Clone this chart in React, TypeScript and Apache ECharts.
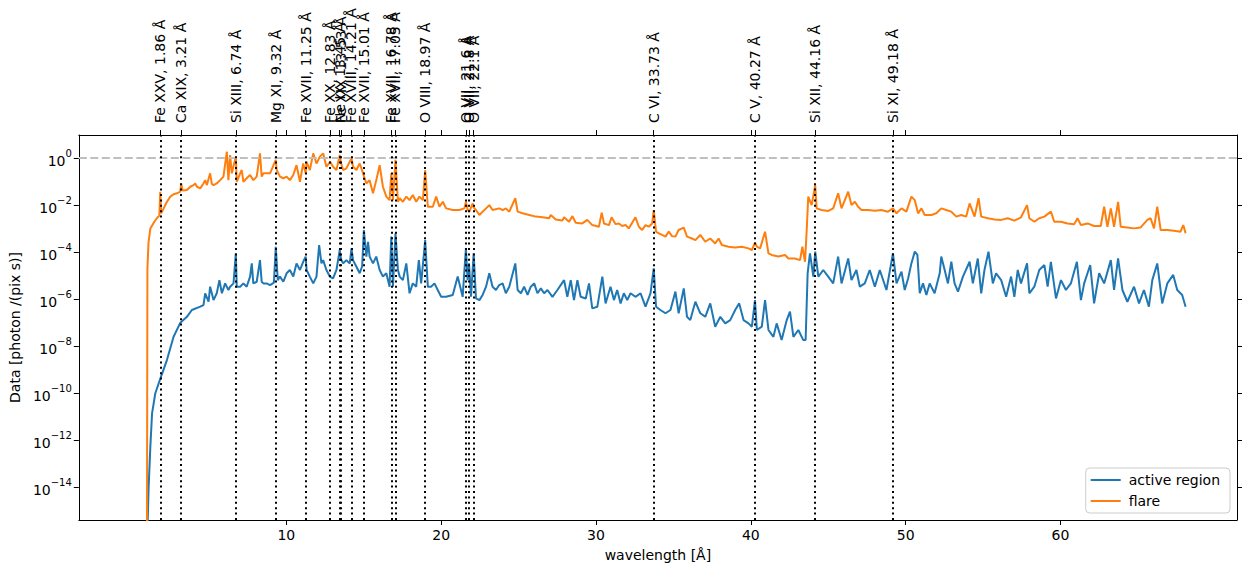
import React, { useEffect, useRef } from "react";
import * as echarts from "echarts";

// Spectra as [wavelength (Å), log10 of data in photon /(pix s)]
const activeRegion: [number, number][] = [
  [1.0, -17], [1.05, -15.4], [1.11, -13.97], [1.22, -12.27], [1.33, -10.86], [1.54, -10.0], [1.87, -9.37],
  [2.29, -8.59], [2.72, -7.6], [3.16, -7.0], [3.58, -6.75], [3.9, -6.46], [4.44, -6.32], [4.65, -6.25],
  [4.76, -5.75], [4.98, -6.11], [5.08, -5.47], [5.3, -6.04], [5.51, -5.75], [5.68, -5.19], [5.84, -5.75],
  [6.05, -5.33], [6.26, -5.61], [6.37, -5.47], [6.59, -5.33], [6.74, -4.05], [6.8, -5.47], [7.02, -5.47],
  [7.23, -5.33], [7.44, -5.47], [7.66, -5.04], [7.77, -4.48], [7.87, -5.33], [8.09, -5.26], [8.3, -4.34],
  [8.41, -5.26], [8.52, -5.33], [8.73, -5.33], [8.95, -5.4], [9.2, -5.3], [9.32, -3.77], [9.45, -5.19],
  [9.59, -5.04], [9.81, -5.26], [10.02, -4.9], [10.23, -4.76], [10.45, -5.04], [10.66, -4.48], [10.88, -4.76],
  [11.09, -4.41], [11.25, -4.19], [11.31, -4.76], [11.52, -5.04], [11.74, -5.33], [11.95, -5.04], [12.12, -3.7],
  [12.27, -4.48], [12.38, -4.34], [12.59, -4.76], [12.81, -5.04], [13.02, -5.12], [13.24, -4.76], [13.45, -3.91],
  [13.53, -4.3], [13.67, -4.48], [13.88, -4.34], [14.1, -4.48], [14.21, -3.84], [14.31, -4.34], [14.53, -4.62],
  [14.74, -4.9], [14.9, -4.6], [15.01, -3.06], [15.17, -4.19], [15.28, -3.56], [15.38, -4.19], [15.6, -4.48],
  [15.81, -4.19], [16.03, -4.76], [16.24, -5.04], [16.46, -4.9], [16.67, -5.47], [16.78, -3.34], [16.89, -5.47],
  [17.05, -3.2], [17.21, -4.76], [17.32, -5.04], [17.53, -5.19], [17.75, -4.48], [17.96, -5.75], [18.17, -5.33],
  [18.39, -5.47], [18.56, -4.34], [18.71, -5.33], [18.97, -3.49], [19.14, -5.47], [19.35, -5.47], [19.57, -5.33],
  [19.78, -5.61], [20.0, -5.9], [20.32, -5.9], [20.75, -5.82], [21.07, -5.04], [21.39, -5.9], [21.6, -3.84],
  [21.71, -5.19], [21.8, -4.48], [21.93, -5.9], [22.1, -4.05], [22.25, -5.97], [22.47, -6.04], [22.68, -5.82],
  [22.9, -5.47], [23.11, -4.9], [23.32, -5.47], [23.54, -5.61], [23.75, -5.4], [23.97, -5.33], [24.18, -5.75],
  [24.4, -5.47], [24.79, -4.48], [24.94, -5.61], [25.15, -5.75], [25.36, -5.47], [25.58, -5.82], [25.79, -5.47],
  [26.01, -5.33], [26.22, -5.75], [26.44, -5.54], [26.65, -5.75], [26.87, -5.61], [27.19, -5.9], [27.51, -5.61],
  [27.94, -5.19], [28.15, -5.9], [28.37, -5.19], [28.58, -6.04], [28.8, -5.19], [29.01, -5.9], [29.34, -5.97],
  [29.55, -5.33], [29.76, -6.39], [30.09, -6.32], [30.41, -5.04], [30.62, -6.18], [30.94, -5.47], [31.16, -6.04],
  [31.37, -5.61], [31.59, -6.18], [31.8, -5.75], [32.02, -6.04], [32.23, -5.75], [32.55, -5.9], [32.88, -5.75],
  [33.2, -6.32], [33.52, -5.75], [33.73, -4.69], [33.88, -6.32], [34.16, -6.46], [34.49, -6.6], [34.81, -6.46],
  [35.13, -5.68], [35.34, -6.6], [35.67, -5.54], [35.88, -6.75], [36.09, -6.89], [36.42, -6.11], [36.74, -6.6],
  [37.06, -6.75], [37.38, -6.18], [37.7, -7.17], [38.03, -6.75], [38.35, -7.03], [38.67, -6.89], [38.99, -6.46],
  [39.25, -6.18], [39.53, -6.89], [39.85, -7.03], [40.07, -7.17], [40.27, -6.04], [40.39, -7.31], [40.71, -7.17],
  [40.92, -6.04], [41.14, -7.31], [41.46, -7.6], [41.67, -7.03], [41.99, -7.74], [42.32, -6.89], [42.53, -6.53],
  [42.75, -7.6], [43.07, -7.31], [43.39, -7.74], [43.54, -7.74], [43.67, -4.9], [43.82, -4.05], [44.04, -5.04],
  [44.16, -3.98], [44.36, -5.04], [44.68, -4.76], [45.0, -5.04], [45.32, -5.33], [45.64, -4.19], [45.86, -5.33],
  [46.29, -4.27], [46.5, -5.19], [46.82, -4.76], [47.04, -5.47], [47.36, -5.33], [47.68, -4.76], [48.01, -5.47],
  [48.33, -4.76], [48.76, -5.61], [49.18, -4.05], [49.41, -5.33], [49.73, -4.83], [49.94, -5.61], [50.16, -5.12],
  [50.37, -4.48], [50.59, -3.98], [50.76, -4.12], [50.91, -5.75], [51.12, -5.33], [51.34, -5.82], [51.55, -5.33],
  [51.87, -5.75], [52.2, -4.9], [52.3, -4.19], [52.52, -4.76], [52.73, -5.33], [52.95, -4.41], [53.16, -5.33],
  [53.38, -5.68], [53.7, -5.04], [54.13, -4.41], [54.34, -5.33], [54.66, -4.27], [54.88, -5.75], [55.09, -4.76],
  [55.35, -3.98], [55.63, -5.33], [55.84, -4.9], [56.17, -5.19], [56.49, -5.9], [56.81, -5.04], [57.02, -5.9],
  [57.24, -4.76], [57.45, -5.33], [57.84, -4.48], [57.99, -5.75], [58.31, -5.47], [58.63, -4.76], [58.96, -4.55],
  [59.17, -5.47], [59.38, -4.41], [59.71, -5.97], [60.03, -5.19], [60.35, -5.61], [60.67, -5.33], [61.06, -4.41],
  [61.32, -6.04], [61.53, -5.33], [61.92, -4.55], [62.17, -6.18], [62.5, -4.9], [62.82, -5.33], [63.25, -4.34],
  [63.46, -5.61], [63.72, -4.27], [64.0, -5.61], [64.32, -6.11], [64.75, -5.47], [65.07, -6.18], [65.39, -5.61],
  [65.71, -6.32], [65.93, -5.19], [66.25, -4.48], [66.57, -6.18], [66.9, -5.33], [67.28, -4.97], [67.54, -5.61],
  [67.86, -5.82], [68.08, -6.32],
];

const flare: [number, number][] = [
  [1.0, -17], [1.03, -4.7], [1.1, -3.6], [1.22, -3.0], [1.44, -2.75], [1.65, -2.55], [1.8, -2.45], [1.86, -1.43],
  [1.92, -2.35], [2.08, -2.14], [2.29, -1.86], [2.51, -1.64], [2.72, -1.54], [2.94, -1.5], [3.15, -1.43],
  [3.21, -1.08], [3.3, -1.38], [3.58, -1.36], [3.8, -1.22], [4.01, -1.15], [4.12, -1.08], [4.23, -1.22],
  [4.44, -1.29], [4.65, -1.08], [4.76, -0.94], [4.87, -1.15], [5.08, -0.65], [5.19, -1.1], [5.3, -1.15],
  [5.51, -1.08], [5.73, -0.94], [5.94, -0.79], [6.16, 0.27], [6.26, -0.94], [6.37, 0.13], [6.48, -0.65],
  [6.74, 0.06], [6.8, -1.01], [7.02, -0.65], [7.12, -0.51], [7.23, -1.01], [7.44, -0.86], [7.66, -0.72],
  [7.87, -0.94], [8.09, -0.79], [8.3, 0.2], [8.41, -0.79], [8.52, -0.65], [8.73, -0.65], [8.95, -0.65],
  [9.32, -0.08], [9.38, -0.51], [9.59, -0.79], [9.81, -0.86], [10.02, -0.79], [10.23, -0.94], [10.45, -0.72],
  [10.66, -0.3], [10.88, -1.01], [11.09, -0.23], [11.25, -0.65], [11.31, -0.16], [11.52, -0.51], [11.74, 0.2],
  [11.95, -0.23], [12.17, 0.06], [12.38, 0.2], [12.59, -0.37], [12.83, -0.16], [13.02, -0.37], [13.24, -0.51],
  [13.45, 0.13], [13.53, -0.2], [13.67, -0.51], [13.88, -0.44], [14.21, -0.01], [14.31, -0.37], [14.53, -0.51],
  [14.74, -0.23], [14.96, -0.65], [15.17, -1.08], [15.38, -0.94], [15.6, -1.5], [15.81, -0.94], [16.03, -0.3],
  [16.24, -1.22], [16.46, -1.64], [16.67, -1.79], [16.78, -0.65], [16.89, -1.79], [17.05, -0.08], [17.21, -1.86],
  [17.32, -1.71], [17.53, -1.86], [17.75, -1.64], [17.96, -1.79], [18.17, -1.57], [18.39, -1.86], [18.6, -1.64],
  [18.82, -1.79], [18.97, -0.51], [19.14, -2.07], [19.46, -2.07], [19.68, -1.64], [19.89, -2.07], [20.11, -1.86],
  [20.32, -2.14], [20.75, -2.21], [21.18, -2.21], [21.5, -2.14], [21.6, -1.86], [21.71, -2.2], [21.82, -2.28],
  [22.04, -1.93], [22.1, -2.1], [22.25, -2.21], [22.47, -2.42], [22.68, -2.28], [22.9, -2.14], [23.11, -2.0],
  [23.32, -2.21], [23.75, -2.14], [23.97, -2.21], [24.18, -2.14], [24.4, -2.28], [24.79, -1.71], [24.94, -2.28],
  [25.26, -2.35], [25.69, -2.42], [26.12, -2.49], [26.55, -2.52], [26.97, -2.56], [27.08, -2.42], [27.4, -2.61],
  [27.83, -2.66], [27.94, -2.52], [28.26, -2.71], [28.48, -2.47], [28.69, -2.75], [29.12, -2.78], [29.44, -2.63],
  [29.76, -2.85], [30.19, -2.92], [30.37, -2.32], [30.52, -2.78], [30.84, -2.85], [31.01, -2.52], [31.27, -2.81],
  [31.48, -2.78], [31.7, -2.89], [31.91, -2.85], [32.12, -2.99], [32.55, -2.52], [32.77, -2.92], [32.98, -3.06],
  [33.2, -2.85], [33.41, -2.92], [33.63, -2.78], [33.73, -2.21], [33.88, -3.13], [34.06, -3.2], [34.27, -3.27],
  [34.49, -3.34], [34.7, -3.13], [34.91, -3.32], [35.13, -3.34], [35.34, -3.06], [35.67, -2.96], [35.88, -3.34],
  [36.2, -3.42], [36.42, -3.49], [36.74, -3.27], [37.06, -3.56], [37.38, -3.42], [37.7, -3.63], [37.92, -3.42],
  [38.13, -3.7], [38.56, -3.77], [38.99, -3.8], [39.42, -3.77], [39.85, -3.84], [40.07, -3.91], [40.27, -3.6],
  [40.39, -3.77], [40.6, -3.84], [40.92, -3.13], [41.14, -4.05], [41.35, -4.12], [41.78, -4.19], [42.21, -4.12],
  [42.43, -4.27], [42.85, -4.27], [43.18, -4.34], [43.33, -3.77], [43.5, -4.41], [43.61, -3.06], [43.71, -1.64],
  [43.93, -2.0], [44.16, -1.15], [44.25, -2.14], [44.57, -2.21], [45.0, -2.25], [45.32, -2.14], [45.64, -1.5],
  [45.86, -2.14], [46.29, -1.43], [46.5, -2.0], [46.72, -1.86], [46.93, -2.07], [47.15, -2.21], [47.58, -2.21],
  [48.01, -2.24], [48.43, -2.21], [48.86, -2.28], [49.18, -2.14], [49.41, -2.35], [49.73, -2.14], [50.05, -2.28],
  [50.37, -1.64], [50.59, -1.79], [50.8, -2.35], [51.02, -2.14], [51.23, -2.42], [51.66, -2.42], [51.98, -2.35],
  [52.3, -2.14], [52.62, -2.21], [52.95, -2.28], [53.27, -2.49], [53.59, -2.42], [53.91, -2.49], [54.13, -1.93],
  [54.45, -2.49], [54.71, -1.71], [54.88, -2.49], [55.31, -2.56], [55.74, -2.61], [56.17, -2.63], [56.59, -2.56],
  [57.02, -2.66], [57.45, -2.52], [57.84, -2.0], [57.99, -2.56], [58.31, -2.71], [58.63, -2.56], [58.96, -2.49],
  [59.38, -2.28], [59.6, -2.71], [60.03, -2.71], [60.46, -2.78], [60.89, -2.81], [61.1, -2.56], [61.32, -2.85],
  [61.75, -2.78], [62.17, -2.89], [62.6, -2.89], [62.82, -2.07], [63.03, -2.92], [63.25, -2.14], [63.46, -2.92],
  [63.72, -1.86], [63.89, -2.92], [64.32, -2.95], [64.75, -2.99], [65.18, -2.95], [65.61, -2.63], [65.82, -2.56],
  [66.04, -2.99], [66.25, -2.07], [66.47, -3.06], [66.9, -3.06], [67.32, -3.09], [67.75, -3.13], [67.93, -2.85],
  [68.08, -3.2],
];

// Emission lines marked on the spectrum
const lineIons = [
  "Fe XXV", "Ca XIX", "Si XIII", "Mg XI", "Fe XVII", "Fe XX", "Ne IX", "Fe XIX", "Fe XVIII", "Fe XVII",
  "Fe XVII", "Fe XVII", "O VIII", "O VII", "O VII", "O VII", "C VI", "C V", "Si XII", "Si XI",
];
const lineWavelengths = [
  1.86, 3.21, 6.74, 9.32, 11.25, 12.83, 13.45, 13.53, 14.21, 15.01,
  16.78, 17.05, 18.97, 21.6, 21.8, 22.1, 33.73, 40.27, 44.16, 49.18,
];

const xTicks = [10, 20, 30, 40, 50, 60];
const yTickExponents = [-14, -12, -10, -8, -6, -4, -2, 0];
const referenceLevel = 0; // log10 of 1 photon /(pix s)

const X_MIN = -3.4;
const X_MAX = 71.4;
const Y_MIN = -15.39;
const Y_MAX = 0.98;

const FONT = "DejaVu Sans";
const BLUE = "#1f77b4";
const ORANGE = "#ff7f0e";

const lineLabel = (v: number) => {
  let best = 0;
  for (let i = 1; i < lineWavelengths.length; i++) {
    if (Math.abs(lineWavelengths[i] - v) < Math.abs(lineWavelengths[best] - v)) best = i;
  }
  return `${lineIons[best]}, ${lineWavelengths[best]} Å`;
};

export default function App() {
  const ref = useRef<HTMLDivElement>(null);

  useEffect(() => {
    if (!ref.current) return;
    const chart = echarts.init(ref.current, undefined, { renderer: "svg" });

    const tickStyle = { color: "#000", width: 1 };
    const axisLine = () => ({ show: true, onZero: false, lineStyle: { ...tickStyle } });
    const option: any = {
      animation: false,
      backgroundColor: "#fff",
      textStyle: { fontFamily: FONT },
      grid: { left: 75, top: 135, width: 1162, height: 385, containLabel: false },
      legend: {
        data: ["active region", "flare"],
        orient: "vertical",
        right: 17,
        bottom: 62,
        itemWidth: 30,
        itemHeight: 14,
        itemGap: 7,
        padding: [5, 10, 5, 4],
        borderColor: "#cccccc",
        borderWidth: 1,
        borderRadius: 4,
        backgroundColor: "rgba(255,255,255,0.8)",
        itemStyle: { opacity: 0 },
        textStyle: { fontFamily: FONT, fontSize: 14, color: "#000", padding: [0, 0, 0, 3] },
      },
      xAxis: [
        {
          type: "value",
          position: "bottom",
          min: X_MIN,
          max: X_MAX,
          name: "wavelength [Å]",
          nameLocation: "middle",
          nameGap: 28,
          nameTextStyle: { fontFamily: FONT, fontSize: 14, color: "#000" },
          axisLine: axisLine(),
          axisTick: { show: true, inside: false, length: 5, lineStyle: tickStyle, customValues: xTicks },
          axisLabel: { show: true, customValues: xTicks, margin: 8, fontFamily: FONT, fontSize: 14, color: "#000" },
          splitLine: { show: false },
        },
        {
          type: "value",
          position: "top",
          min: X_MIN,
          max: X_MAX,
          axisLine: axisLine(),
          axisTick: {
            show: true,
            inside: false,
            length: 5,
            lineStyle: tickStyle,
            customValues: [...xTicks, ...lineWavelengths],
          },
          axisLabel: {
            show: true,
            customValues: lineWavelengths,
            rotate: -90,
            margin: 12,
            fontFamily: FONT,
            fontSize: 14,
            color: "#000",
            formatter: (v: number) => lineLabel(v),
          },
          splitLine: { show: false },
        },
      ],
      yAxis: [
        {
          type: "value",
          position: "left",
          min: Y_MIN,
          max: Y_MAX,
          name: "Data [photon /(pix s)]",
          nameLocation: "middle",
          nameGap: 51,
          nameTextStyle: { fontFamily: FONT, fontSize: 14, color: "#000" },
          axisLine: axisLine(),
          axisTick: { show: true, inside: false, length: 5, lineStyle: tickStyle, customValues: yTickExponents },
          axisLabel: {
            show: true,
            customValues: yTickExponents,
            margin: 7,
            formatter: (v: number) => (v === 0 ? "{b|10}{s|0}" : `{b|10}{s|−${-v}}`),
            rich: {
              b: { fontFamily: FONT, fontSize: 14, color: "#000", lineHeight: 20, verticalAlign: "bottom" },
              s: { fontFamily: FONT, fontSize: 10, color: "#000", lineHeight: 11, verticalAlign: "top" },
            },
          },
          splitLine: { show: false },
        },
        {
          type: "value",
          position: "right",
          min: Y_MIN,
          max: Y_MAX,
          axisLine: axisLine(),
          axisTick: { show: true, inside: false, length: 5, lineStyle: tickStyle, customValues: yTickExponents },
          axisLabel: { show: false },
          splitLine: { show: false },
        },
      ],
      series: [
        {
          name: "active region",
          type: "line",
          data: activeRegion,
          symbol: "none",
          clip: true,
          lineStyle: { color: BLUE, width: 2 },
          itemStyle: { color: BLUE },
          z: 2,
        },
        {
          name: "flare",
          type: "line",
          data: flare,
          symbol: "none",
          clip: true,
          lineStyle: { color: ORANGE, width: 2 },
          itemStyle: { color: ORANGE },
          z: 3,
        },
        {
          name: "markers",
          type: "line",
          data: [],
          z: 4,
          markLine: {
            silent: true,
            symbol: "none",
            label: { show: false },
            data: [
              { yAxis: referenceLevel, lineStyle: { color: "#bfbfbf", width: 2, type: [8, 3.5] } },
              ...lineWavelengths.map((w) => ({
                xAxis: w,
                lineStyle: { color: "#000", width: 2, type: [2, 3.4] },
              })),
            ],
          },
        },
      ],
    };

    chart.setOption(option);
    return () => chart.dispose();
  }, []);

  return (
    <div
      ref={ref}
      style={{ position: "absolute", left: 0, top: 0, width: 1247, height: 575, background: "#fff" }}
    />
  );
}
